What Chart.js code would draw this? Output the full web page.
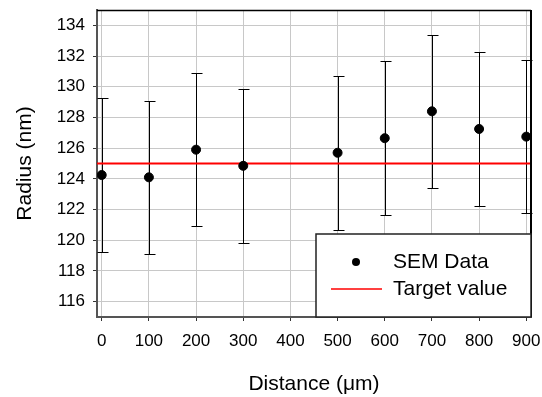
<!DOCTYPE html>
<html>
<head>
<meta charset="utf-8">
<script src="https://cdn.jsdelivr.net/npm/chart.js@4.4.1/dist/chart.umd.min.js"></script>
<style>
  html, body { margin: 0; padding: 0; background: #fff; }
  #wrap { width: 542px; height: 397px; }
</style>
</head>
<body>
<div id="wrap"><canvas id="radiusChart" width="542" height="397"></canvas></div>
<script>
var distances = [0, 100, 200, 300, 500, 600, 700, 800, 900];
var radii = [124.25, 124.1, 125.9, 124.85, 125.7, 126.65, 128.4, 127.25, 126.75];
var radiusErrors = [5, 5, 5, 5, 5, 5, 5, 5, 5];
var targetRadius = 125;
var xTicks = [0, 100, 200, 300, 400, 500, 600, 700, 800, 900];
var yTicks = [116, 118, 120, 122, 124, 126, 128, 130, 132, 134];
var xRange = [-10, 910];
var yRange = [115, 135];

var fontFamily = "'Liberation Sans', Arial, sans-serif";

// error bars drawn through the scales
var errorBars = {
  id: "errorBars",
  beforeDatasetsDraw: function (chart) {
    var ctx = chart.ctx;
    var xs = chart.scales.x;
    var ys = chart.scales.y;
    ctx.save();
    ctx.strokeStyle = "#000";
    ctx.lineWidth = 1;
    distances.forEach(function (d, i) {
      var px = Math.round(xs.getPixelForValue(d)) + 0.5;
      var top = Math.round(ys.getPixelForValue(radii[i] + radiusErrors[i])) + 0.5;
      var bot = Math.round(ys.getPixelForValue(radii[i] - radiusErrors[i])) + 0.5;
      ctx.beginPath();
      ctx.moveTo(px, top);
      ctx.lineTo(px, bot);
      ctx.moveTo(px - 5, top);
      ctx.lineTo(px + 6, top);
      ctx.moveTo(px - 5, bot);
      ctx.lineTo(px + 6, bot);
      ctx.stroke();
    });
    ctx.restore();
  }
};

// top/right frame and the boxed legend inside the plot
var frameAndLegend = {
  id: "frameAndLegend",
  afterDraw: function (chart) {
    var ctx = chart.ctx;
    var ca = chart.chartArea;
    ctx.save();
    ctx.strokeStyle = "#000";
    ctx.lineWidth = 1.5;
    ctx.beginPath();
    ctx.moveTo(ca.left, ca.top + 0.5);
    ctx.lineTo(ca.right, ca.top + 0.5);
    ctx.stroke();
    ctx.lineWidth = 2;
    ctx.beginPath();
    ctx.moveTo(ca.right, ca.top);
    ctx.lineTo(ca.right, ca.bottom);
    ctx.stroke();

    var w = 215, h = 83;
    var bx = ca.right - w, by = ca.bottom - h;
    ctx.fillStyle = "#fff";
    ctx.fillRect(bx, by, w, h);
    ctx.strokeStyle = "#222";
    ctx.lineWidth = 1.5;
    ctx.strokeRect(bx, by, w, h);

    var sets = chart.data.datasets;
    ctx.font = "21px " + fontFamily;
    ctx.textBaseline = "middle";
    ctx.textAlign = "left";
    ctx.fillStyle = "#000";
    // SEM Data
    ctx.beginPath();
    ctx.arc(bx + 40, by + 28, 4, 0, Math.PI * 2);
    ctx.fill();
    ctx.fillText(sets[0].label, bx + 77, by + 28);
    // Target value
    ctx.strokeStyle = sets[1].borderColor;
    ctx.lineWidth = 1.5;
    ctx.beginPath();
    ctx.moveTo(bx + 15, by + 55);
    ctx.lineTo(bx + 66, by + 55);
    ctx.stroke();
    ctx.fillText(sets[1].label, bx + 77, by + 55);
    ctx.restore();
  }
};

var ctx = document.getElementById("radiusChart").getContext("2d");
var radiusChart = new Chart(ctx, {
  type: "scatter",
  data: {
    datasets: [
      {
        label: "SEM Data",
        data: distances.map(function (d, i) {
          return { x: d, y: radii[i] };
        }),
        backgroundColor: "#000",
        borderColor: "#000",
        pointRadius: 4.5,
        pointHoverRadius: 4.5,
        showLine: false
      },
      {
        type: "line",
        label: "Target value",
        data: xRange.map(function (x) {
          return { x: x, y: targetRadius };
        }),
        borderColor: "#ff0000",
        borderWidth: 2,
        pointRadius: 0,
        fill: false
      }
    ]
  },
  options: {
    responsive: false,
    animation: false,
    layout: {
      padding: { left: 0, top: 10, right: 11, bottom: 0 }
    },
    plugins: {
      legend: { display: false },
      tooltip: { enabled: false }
    },
    scales: {
      x: {
        type: "linear",
        position: "bottom",
        min: xRange[0],
        max: xRange[1],
        afterBuildTicks: function (scale) {
          scale.ticks = xTicks.map(function (v) {
            return { value: v };
          });
        },
        afterFit: function (scale) {
          scale.height = 80;
          scale.paddingLeft = 0;
          scale.paddingRight = 0;
        },
        ticks: {
          color: "#000",
          font: { family: fontFamily, size: 17 },
          padding: 10,
          maxRotation: 0,
          autoSkip: false
        },
        grid: {
          color: "#c8c8c8",
          tickColor: "#333",
          tickLength: 4
        },
        border: { color: "#555", width: 2 },
        title: {
          display: true,
          text: "Distance (μm)",
          color: "#000",
          font: { family: fontFamily, size: 21 },
          padding: { top: 0, bottom: 0 }
        }
      },
      y: {
        type: "linear",
        min: yRange[0],
        max: yRange[1],
        afterBuildTicks: function (scale) {
          scale.ticks = yTicks.map(function (v) {
            return { value: v };
          });
        },
        afterFit: function (scale) {
          scale.width = 97;
          scale.paddingTop = 0;
          scale.paddingBottom = 0;
        },
        ticks: {
          color: "#000",
          font: { family: fontFamily, size: 17 },
          padding: 8
        },
        grid: {
          color: "#c8c8c8",
          tickColor: "#333",
          tickLength: 4
        },
        border: { color: "#555", width: 2 },
        title: {
          display: true,
          text: "Radius (nm)",
          color: "#000",
          font: { family: fontFamily, size: 21 },
          padding: { top: 13, bottom: 0 }
        }
      }
    }
  },
  plugins: [errorBars, frameAndLegend]
});
</script>
</body>
</html>
